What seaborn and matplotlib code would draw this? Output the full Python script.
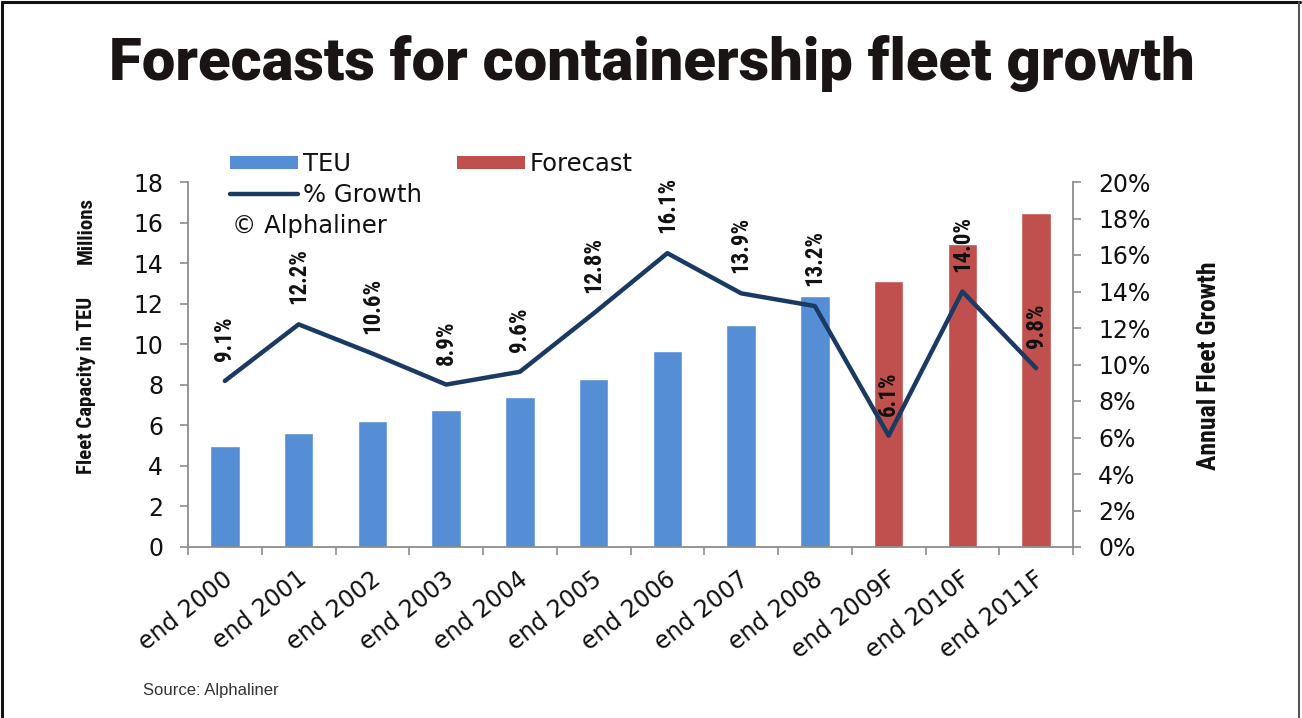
import matplotlib
matplotlib.use("Agg")
import matplotlib.pyplot as plt
import matplotlib.transforms as mtransforms
from matplotlib.patches import Patch
from matplotlib.lines import Line2D
import numpy as np
import pandas as pd
import seaborn as sns

# ---- data ----
categories = ["end 2000", "end 2001", "end 2002", "end 2003", "end 2004", "end 2005",
              "end 2006", "end 2007", "end 2008", "end 2009F", "end 2010F", "end 2011F"]
teu_millions = [5.0, 5.6, 6.2, 6.75, 7.4, 8.3, 9.65, 10.95, 12.4, 13.1, 14.95, 16.45]
series_type = ["TEU"] * 9 + ["Forecast"] * 3
growth_pct = [9.1, 12.2, 10.6, 8.9, 9.6, 12.8, 16.1, 13.9, 13.2, 6.1, 14.0, 9.8]
left_ticks = [0, 2, 4, 6, 8, 10, 12, 14, 16, 18]
right_ticks = [0, 2, 4, 6, 8, 10, 12, 14, 16, 18, 20]

BLUE = "#558ED5"
RED = "#C0504D"
NAVY = "#1B3A63"
AXIS_GRAY = "#8C8C8C"
TXT = "#111111"

sns.set_theme(style="white")
plt.rcParams["font.family"] = ["DejaVu Sans"]

W, H = 1302, 718
fig = plt.figure(figsize=(W / 100, H / 100), dpi=100)
ax = fig.add_axes([188 / W, 1 - 547 / H, (1073 - 188) / W, (547 - 182) / H])

df = pd.DataFrame({"cat": categories, "teu": teu_millions, "type": series_type})
sns.barplot(data=df, x="cat", y="teu", hue="type", dodge=False, width=0.4,
            palette={"TEU": BLUE, "Forecast": RED}, saturation=1, ax=ax, legend=False)

ax.set_xlim(-0.5, len(categories) - 0.5)
ax.set_ylim(0, 18)
ax.set_yticks(left_ticks)
ax.set_yticklabels([str(t) for t in left_ticks], fontsize=17, color=TXT)
ax.set_xlabel("")
ax.set_ylabel("")

for s in ["top", "right"]:
    ax.spines[s].set_visible(False)
for s in ["left", "bottom"]:
    ax.spines[s].set_color(AXIS_GRAY)
    ax.spines[s].set_linewidth(1.3)

ax.tick_params(axis="y", which="major", direction="out", length=6, width=1.2,
               color=AXIS_GRAY, pad=12, left=True)
ax.set_xticks(np.arange(len(categories)))
ax.set_xticks(np.arange(len(categories) + 1) - 0.5, minor=True)
ax.tick_params(axis="x", which="major", length=0, pad=21)
ax.tick_params(axis="x", which="minor", direction="out", length=6, width=1.2,
               color=AXIS_GRAY, bottom=True)
ax.set_xticklabels(categories, rotation=38, ha="right", rotation_mode="anchor",
                   va="center", fontsize=17, color=TXT)
offset = mtransforms.ScaledTranslation(5 / 100, 0, fig.dpi_scale_trans)
for lbl in ax.get_xticklabels():
    lbl.set_transform(lbl.get_transform() + offset)

# twin axis for growth line
ax2 = ax.twinx()
sns.lineplot(x=np.arange(len(categories)), y=growth_pct, color=NAVY, linewidth=3.2,
             ax=ax2, legend=False)
ax2.set_ylim(0, 20)
ax2.set_yticks(right_ticks)
ax2.set_yticklabels([f"{t}%" for t in right_ticks], fontsize=17, color=TXT)
ax2.set_ylabel("")
for s in ["top", "left", "bottom"]:
    ax2.spines[s].set_visible(False)
ax2.spines["right"].set_color(AXIS_GRAY)
ax2.spines["right"].set_linewidth(1.3)
ax2.tick_params(axis="y", direction="out", length=6, width=1.2, color=AXIS_GRAY,
                pad=12, right=True)
ax2.grid(False)
ax.grid(False)

narrow = ["Roboto Condensed", "Liberation Sans Narrow", "DejaVu Sans"]
for i, g in enumerate(growth_pct):
    ax2.annotate(f"{g:.1f}%", xy=(i, g), xytext=(0, 20), textcoords="offset pixels",
                 rotation=90, ha="center", va="bottom", fontsize=16.5,
                 fontweight="bold", family=narrow, color=TXT)

# legend
handles = [Patch(facecolor=BLUE, edgecolor="none"),
           Line2D([0], [0], color=NAVY, linewidth=3.2),
           Patch(facecolor=RED, edgecolor="none")]
labels = ["TEU", "% Growth", "Forecast"]
fig.legend(handles, labels, loc="upper left", bbox_to_anchor=(230 / W, 1 - 152 / H),
           ncol=2, frameon=False, fontsize=17.5, handlelength=2.8, handleheight=0.42,
           handletextpad=0.2, labelspacing=0.28, columnspacing=1.45, borderpad=0,
           borderaxespad=0, labelcolor=TXT)
fig.text(232 / W, 1 - 226 / H, "© Alphaliner", fontsize=17.5, ha="left", va="center",
         color=TXT)

# axis titles
fig.text(86 / W, 1 - 385 / H, "Fleet Capacity in TEU", rotation=90,
         ha="center", va="center", fontsize=15, fontweight="bold", family=narrow,
         color=TXT)
fig.text(86 / W, 1 - 230 / H, "Millions", rotation=90,
         ha="center", va="center", fontsize=15, fontweight="bold", family=narrow,
         color=TXT)
fig.text(1209 / W, 1 - 366 / H, "Annual Fleet Growth", rotation=90,
         ha="center", va="center", fontsize=18.5, fontweight="bold", family=narrow,
         color=TXT)

# title
fig.text(652 / W, 1 - 63 / H, "Forecasts for containership fleet growth",
         ha="center", va="center", fontsize=43, fontweight="black",
         family=["Roboto", "DejaVu Sans"], color="#1a1414")

# source
fig.text(143 / W, 1 - 690 / H, "Source: Alphaliner", ha="left", va="center",
         fontsize=12, family=["Liberation Sans", "DejaVu Sans"], color="#333333")

# frame lines
fig.add_artist(Line2D([2 / W, 2 / W], [0, 1 - 2 / H], transform=fig.transFigure,
                      color="#111111", linewidth=2.2))
fig.add_artist(Line2D([2 / W, 1300 / W], [1 - 2 / H, 1 - 2 / H], transform=fig.transFigure,
                      color="#111111", linewidth=2.2))
fig.add_artist(Line2D([1299 / W, 1299 / W], [0, 1 - 2 / H], transform=fig.transFigure,
                      color="#555555", linewidth=1.5))

fig.savefig("out.png", dpi=100, facecolor="white")
